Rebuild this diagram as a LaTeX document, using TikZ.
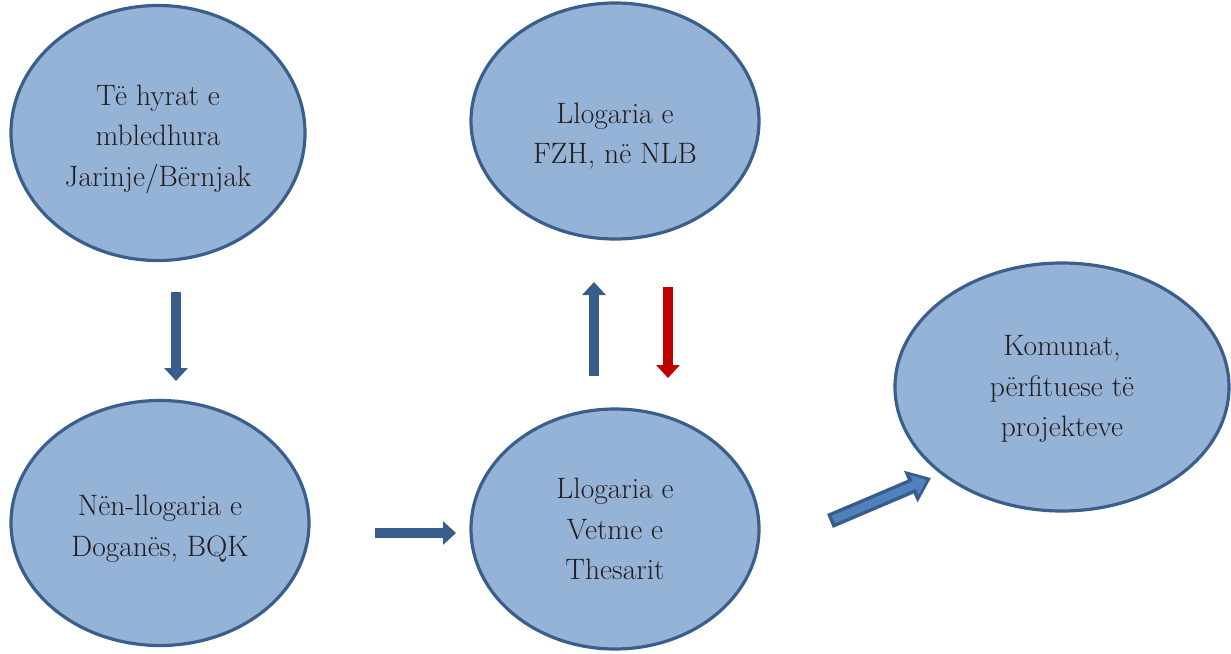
\documentclass[tikz,border=0pt]{standalone}
\usepackage{fontspec}
\setmainfont{Latin Modern Roman}
\usetikzlibrary{arrows.meta,shapes.geometric}
\definecolor{ellfill}{HTML}{95B3D7}
\definecolor{elldraw}{HTML}{3A5F8C}
\definecolor{arrblue}{HTML}{385D8A}
\definecolor{arrred}{HTML}{C00000}
\definecolor{arrlight}{HTML}{4F81BD}
\definecolor{txt}{HTML}{231C1A}
\tikzset{
  ell/.style={ellipse, draw=elldraw, fill=ellfill, line width=3.2pt, inner sep=0pt},
  lbl/.style={align=center, text=txt, inner sep=0pt, font=\fontsize{29.5}{40.5}\selectfont},
  blockarrow/.style={line width=10pt, -{Triangle[width=23pt,length=13pt]}},
}
\begin{document}
\begin{tikzpicture}[x=1pt,y=-1pt]
\useasboundingbox (0,0) rectangle (1231,653);
\node[ell, minimum width=294pt, minimum height=255pt] (a) at (158,133) {};
\node[ell, minimum width=288pt, minimum height=236pt] (b) at (615,121) {};
\node[ell, minimum width=298pt, minimum height=245pt] (c) at (160,523) {};
\node[ell, minimum width=288pt, minimum height=240pt] (d) at (615,529) {};
\node[ell, minimum width=334pt, minimum height=248pt] (e) at (1062,387) {};
\node[lbl] (at) at ([yshift=-6pt]a.center) {Të hyrat e\\mbledhura\\Jarinje/Bërnjak};
\node[lbl] (bt) at ([yshift=-15pt]b.center) {Llogaria e\\FZH, në NLB};
\node[lbl] (ct) at ([yshift=-6pt]c.center) {Nën-llogaria e\\Doganës, BQK};
\node[lbl] (dt) at ([yshift=0pt]d.center) {Llogaria e\\Vetme e\\Thesarit};
\node[lbl] (et) at ([yshift=-2pt]e.center) {Komunat,\\përfituese të\\projekteve};
\coordinate (a1s) at (176,292); \coordinate (a1e) at (176,381);
\coordinate (a2s) at (594,376); \coordinate (a2e) at (594,282);
\coordinate (a3s) at (668,287); \coordinate (a3e) at (668,378);
\coordinate (a4s) at (375,533); \coordinate (a4e) at (456,533);
\coordinate (a5s) at (830,521); \coordinate (a5e) at (931,478);
\draw[blockarrow, draw=arrblue, fill=arrblue] (a1s) -- (a1e);
\draw[blockarrow, draw=arrblue, fill=arrblue] (a2s) -- (a2e);
\draw[blockarrow, draw=arrred, fill=arrred] (a3s) -- (a3e);
\draw[blockarrow, draw=arrblue, fill=arrblue] (a4s) -- (a4e);
\draw[line width=15pt, draw=arrblue, fill=arrblue, -{Triangle[width=33pt,length=22pt]}] (a5s) -- (a5e);
\draw[line width=8pt, draw=arrlight, fill=arrlight, shorten <=3.5pt, shorten >=5pt,
  -{Triangle[width=21pt,length=13pt]}] (a5s) -- (a5e);
\end{tikzpicture}
\end{document}
